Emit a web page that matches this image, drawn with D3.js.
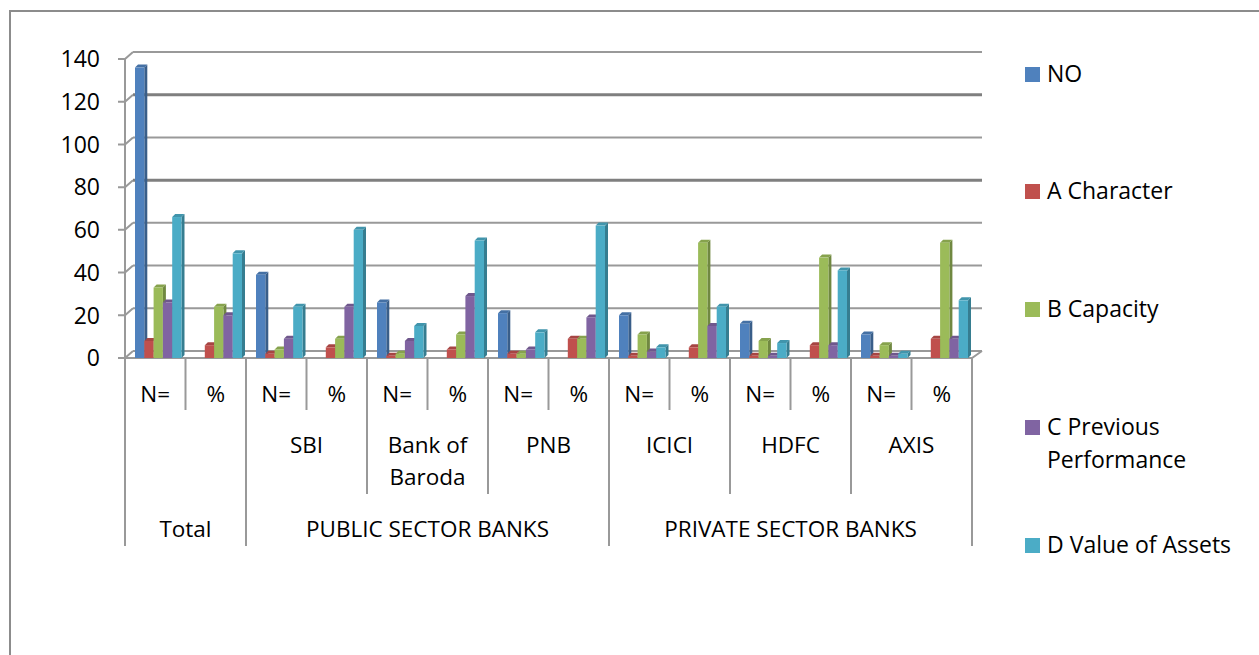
<!DOCTYPE html>
<meta charset="utf-8">
<style>
  body { margin: 0; background: #fff; }
  text { font-family: "Open Sans", sans-serif; fill: #000; }
</style>
<svg width="1259" height="655"></svg>
<script src="https://d3js.org/d3.v7.min.js"></script>
<script>
// x-axis labels, three levels
var subLabels = ["N=", "%", "N=", "%", "N=", "%", "N=", "%", "N=", "%", "N=", "%", "N=", "%"]
var banks = [
  { name: [""], span: 2 },
  { name: ["SBI"], span: 2 },
  { name: ["Bank of", "Baroda"], span: 2 },
  { name: ["PNB"], span: 2 },
  { name: ["ICICI"], span: 2 },
  { name: ["HDFC"], span: 2 },
  { name: ["AXIS"], span: 2 }
]
var sectors = [
  { name: "Total", span: 2 },
  { name: "PUBLIC SECTOR BANKS", span: 6 },
  { name: "PRIVATE SECTOR BANKS", span: 6 }
]

var seriesNames = ["NO", "A Character", "B Capacity", "C Previous Performance", "D Value of Assets"]
var legendLines = [["NO"], ["A Character"], ["B Capacity"], ["C Previous", "Performance"], ["D Value of Assets"]]
var colors = ["#4f81bd", "#c0504d", "#9bbb59", "#8064a2", "#4bacc6"]

// values per series, one per column
var noValues = [136, null, 39, null, 26, null, 21, null, 20, null, 16, null, 11, null]
var characterValues = [8, 6, 2, 5, 1, 4, 2, 9, 1, 5, 1, 6, 1, 9]
var capacityValues = [33, 24, 4, 9, 2, 11, 2, 9, 11, 54, 8, 47, 6, 54]
var performanceValues = [26, 20, 9, 24, 8, 29, 4, 19, 3, 15, 1, 6, 1, 9]
var assetValues = [66, 49, 24, 60, 15, 55, 12, 62, 5, 24, 7, 41, 2, 27]
var allValues = [noValues, characterValues, capacityValues, performanceValues, assetValues]

var yTicks = [0, 20, 40, 60, 80, 100, 120, 140]

var svg = d3.select("svg")

// outer frame
svg.append("path")
  .attr("d", "M10,655 V11 H1259")
  .attr("fill", "none")
  .attr("stroke", "#8c8c8c")
  .attr("stroke-width", 2)

var plotLeft = 125, plotRight = 972, plotTop = 59, plotBottom = 358
var depthX = 8, depthY = 7

var x = d3.scaleBand().domain(d3.range(subLabels.length)).range([plotLeft, plotRight])
var xInner = d3.scaleBand().domain(seriesNames).range([10, 56.5])
var y = d3.scaleLinear().domain([0, 140]).range([plotBottom, plotTop])

// back wall gridlines
var grid = svg.append("g")
yTicks.forEach(function (t) {
  var yy = y(t)
  var thick = (t === 120 || t === 80)
  grid.append("line")
    .attr("x1", plotLeft + depthX).attr("x2", plotRight + 10)
    .attr("y1", yy - depthY).attr("y2", yy - depthY)
    .attr("stroke", thick ? "#7f7f7f" : "#999")
    .attr("stroke-width", thick ? 3 : 2)
  grid.append("path")
    .attr("d", "M" + (plotLeft - 7) + "," + yy + " H" + plotLeft + " L" + (plotLeft + depthX) + "," + (yy - depthY))
    .attr("fill", "none")
    .attr("stroke", "#999")
    .attr("stroke-width", 2)
})

// floor
svg.append("path")
  .attr("d", "M" + plotLeft + "," + plotBottom + " H" + plotRight + " L" + (plotRight + 10) + "," + (plotBottom - depthY))
  .attr("fill", "none")
  .attr("stroke", "#999")
  .attr("stroke-width", 2)

// y axis line
svg.append("line")
  .attr("x1", plotLeft).attr("x2", plotLeft)
  .attr("y1", plotTop).attr("y2", plotBottom)
  .attr("stroke", "#999").attr("stroke-width", 2)

// y tick labels
svg.append("g").selectAll("text")
  .data(yTicks)
  .enter().append("text")
  .attr("x", 100)
  .attr("y", function (d) { return y(d) })
  .attr("dy", "0.36em")
  .attr("text-anchor", "end")
  .attr("font-size", 23)
  .text(function (d) { return d })

// bars, drawn left to right so each front face covers the previous side
var bars = []
subLabels.forEach(function (lab, i) {
  seriesNames.forEach(function (s, j) {
    var v = allValues[j][i]
    if (v != null) bars.push({ col: i, series: j, value: v })
  })
})

var bd = 3
var barG = svg.append("g")
bars.forEach(function (b) {
  var x0 = x(b.col) + xInner(seriesNames[b.series])
  var w = xInner.bandwidth()
  var yt = y(b.value)
  var c = d3.color(colors[b.series])
  var g = barG.append("g")
  // side
  g.append("path")
    .attr("d", "M" + (x0 + w) + "," + yt + " L" + (x0 + w + bd) + "," + (yt - bd) +
      " V" + (plotBottom - bd) + " L" + (x0 + w) + "," + plotBottom + "Z")
    .attr("fill", c.darker(0.9))
  // top
  g.append("path")
    .attr("d", "M" + x0 + "," + yt + " L" + (x0 + bd) + "," + (yt - bd) +
      " H" + (x0 + w + bd) + " L" + (x0 + w) + "," + yt + "Z")
    .attr("fill", c.darker(0.4))
  // front
  g.append("rect")
    .attr("x", x0).attr("y", yt)
    .attr("width", w).attr("height", plotBottom - yt)
    .attr("fill", c)
})

// category separators and labels
var axisG = svg.append("g")
function sep(px, y2) {
  axisG.append("line")
    .attr("x1", px).attr("x2", px)
    .attr("y1", plotBottom).attr("y2", y2)
    .attr("stroke", "#999").attr("stroke-width", 2)
}
var bw = x.bandwidth()
var labelSize = 22.5
subLabels.forEach(function (lab, i) {
  sep(x(i), 410)
  axisG.append("text")
    .attr("x", x(i) + bw / 2).attr("y", 394)
    .attr("dy", "0.36em")
    .attr("text-anchor", "middle")
    .attr("font-size", labelSize)
    .text(lab)
})
var col = 0
banks.forEach(function (b) {
  sep(plotLeft + col * bw, 494)
  var cx = plotLeft + (col + b.span / 2) * bw
  b.name.forEach(function (line, k) {
    axisG.append("text")
      .attr("x", cx).attr("y", 445 + k * 32)
      .attr("dy", "0.36em")
      .attr("text-anchor", "middle")
      .attr("font-size", labelSize)
      .text(line)
  })
  col += b.span
})
col = 0
sectors.forEach(function (s) {
  sep(plotLeft + col * bw, 546)
  axisG.append("text")
    .attr("x", plotLeft + (col + s.span / 2) * bw).attr("y", 529)
    .attr("dy", "0.36em")
    .attr("text-anchor", "middle")
    .attr("font-size", labelSize)
    .text(s.name)
  col += s.span
})
sep(plotRight, 546)

// legend
var legendY = [74, 191, 309, 427, 545]
var legend = svg.append("g")
legendLines.forEach(function (lines, i) {
  legend.append("rect")
    .attr("x", 1025).attr("y", legendY[i] - 7)
    .attr("width", 15).attr("height", 15)
    .attr("fill", colors[i])
  lines.forEach(function (line, k) {
    legend.append("text")
      .attr("x", 1047).attr("y", legendY[i] + k * 33)
      .attr("dy", "0.36em")
      .attr("font-size", 23)
      .text(line)
  })
})
</script>
